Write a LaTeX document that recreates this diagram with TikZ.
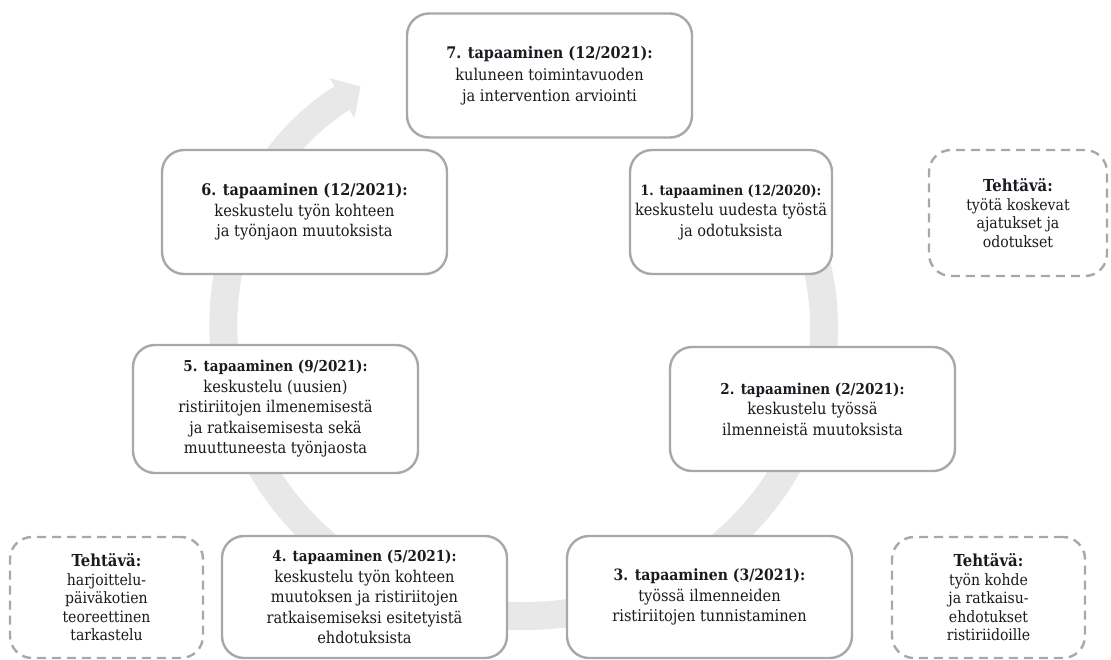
\documentclass[tikz,border=0pt]{standalone}
\usepackage{fontspec}
\setmainfont{DejaVu Serif Condensed}
\usetikzlibrary{arrows.meta}
\definecolor{rimgray}{HTML}{A8A8A8}
\definecolor{ringgray}{HTML}{E8E8E8}
\definecolor{inkdark}{HTML}{1A1A20}
\newcommand{\meethead}[2][15]{{\fontsize{#1}{20.5}\selectfont\bfseries #2}}

\begin{document}
\begin{tikzpicture}[x=1pt,y=-1pt,
  meeting/.style={draw=rimgray,line width=2.4pt,fill=white,rounded corners=22pt,
    minimum width=#1,minimum height=124pt,inner sep=0pt,align=center,text=inkdark,
    font=\fontsize{16.2}{20.5}\selectfont},
  task/.style={meeting=#1,dash pattern=on 9pt off 6pt,minimum height=121pt,
    font=\fontsize{15.6}{18.5}\selectfont},
  ring/.style={ringgray,line width=28pt,-{Triangle[width=46pt,length=22pt]}}]
  \useasboundingbox (0,0) rectangle (1111,659);
  \coordinate (hub) at (524,328);
  \draw[ring] (hub) ++(-28:300 and 288) arc[start angle=-28,end angle=237,x radius=300,y radius=288];
  \node[meeting=285pt] (m7) at (549.5,75.5) {\meethead[16]{7. tapaaminen (12/2021):}\\[2pt]kuluneen toimintavuoden\\ja intervention arviointi};
  \node[meeting=285pt] (m6) at (304.5,212) {\meethead[16]{6. tapaaminen (12/2021):}\\keskustelu työn kohteen\\ja työnjaon muutoksista};
  \node[meeting=202pt] (m1) at (731,212) {\meethead[14]{1. tapaaminen (12/2020):}\\keskustelu uudesta työstä\\ja odotuksista};
  \node[task=178pt,minimum height=126pt] (t1) at (1018,213) {\meethead[16.5]{Tehtävä:}\\työtä koskevat\\ajatukset ja\\odotukset};
  \node[meeting=285pt,minimum height=128pt] (m5) at (275.5,409) {\meethead{5. tapaaminen (9/2021):}\\keskustelu (uusien)\\ristiriitojen ilmenemisestä\\ja ratkaisemisesta sekä\\muuttuneesta työnjaosta};
  \node[meeting=285pt] (m2) at (812.5,409) {\meethead{2. tapaaminen (2/2021):}\\keskustelu työssä\\ilmenneistä muutoksista};
  \node[meeting=285pt,minimum height=122pt] (m4) at (364.5,597) {\meethead{4. tapaaminen (5/2021):}\\keskustelu työn kohteen\\muutoksen ja ristiriitojen\\ratkaisemiseksi esitetyistä\\ehdotuksista};
  \node[meeting=285pt,minimum height=122pt] (m3) at (709.5,597) {\meethead[15.6]{3. tapaaminen (3/2021):}\\työssä ilmenneiden\\ristiriitojen tunnistaminen};
  \node[task=193pt] (t4) at (106.5,597.5) {\meethead[16.5]{Tehtävä:}\\harjoittelu-\\päiväkotien\\teoreettinen\\tarkastelu};
  \node[task=193pt] (t3) at (988.5,597.5) {\meethead[16.5]{Tehtävä:}\\työn kohde\\ja ratkaisu-\\ehdotukset\\ristiriidoille};
\end{tikzpicture}
\end{document}
